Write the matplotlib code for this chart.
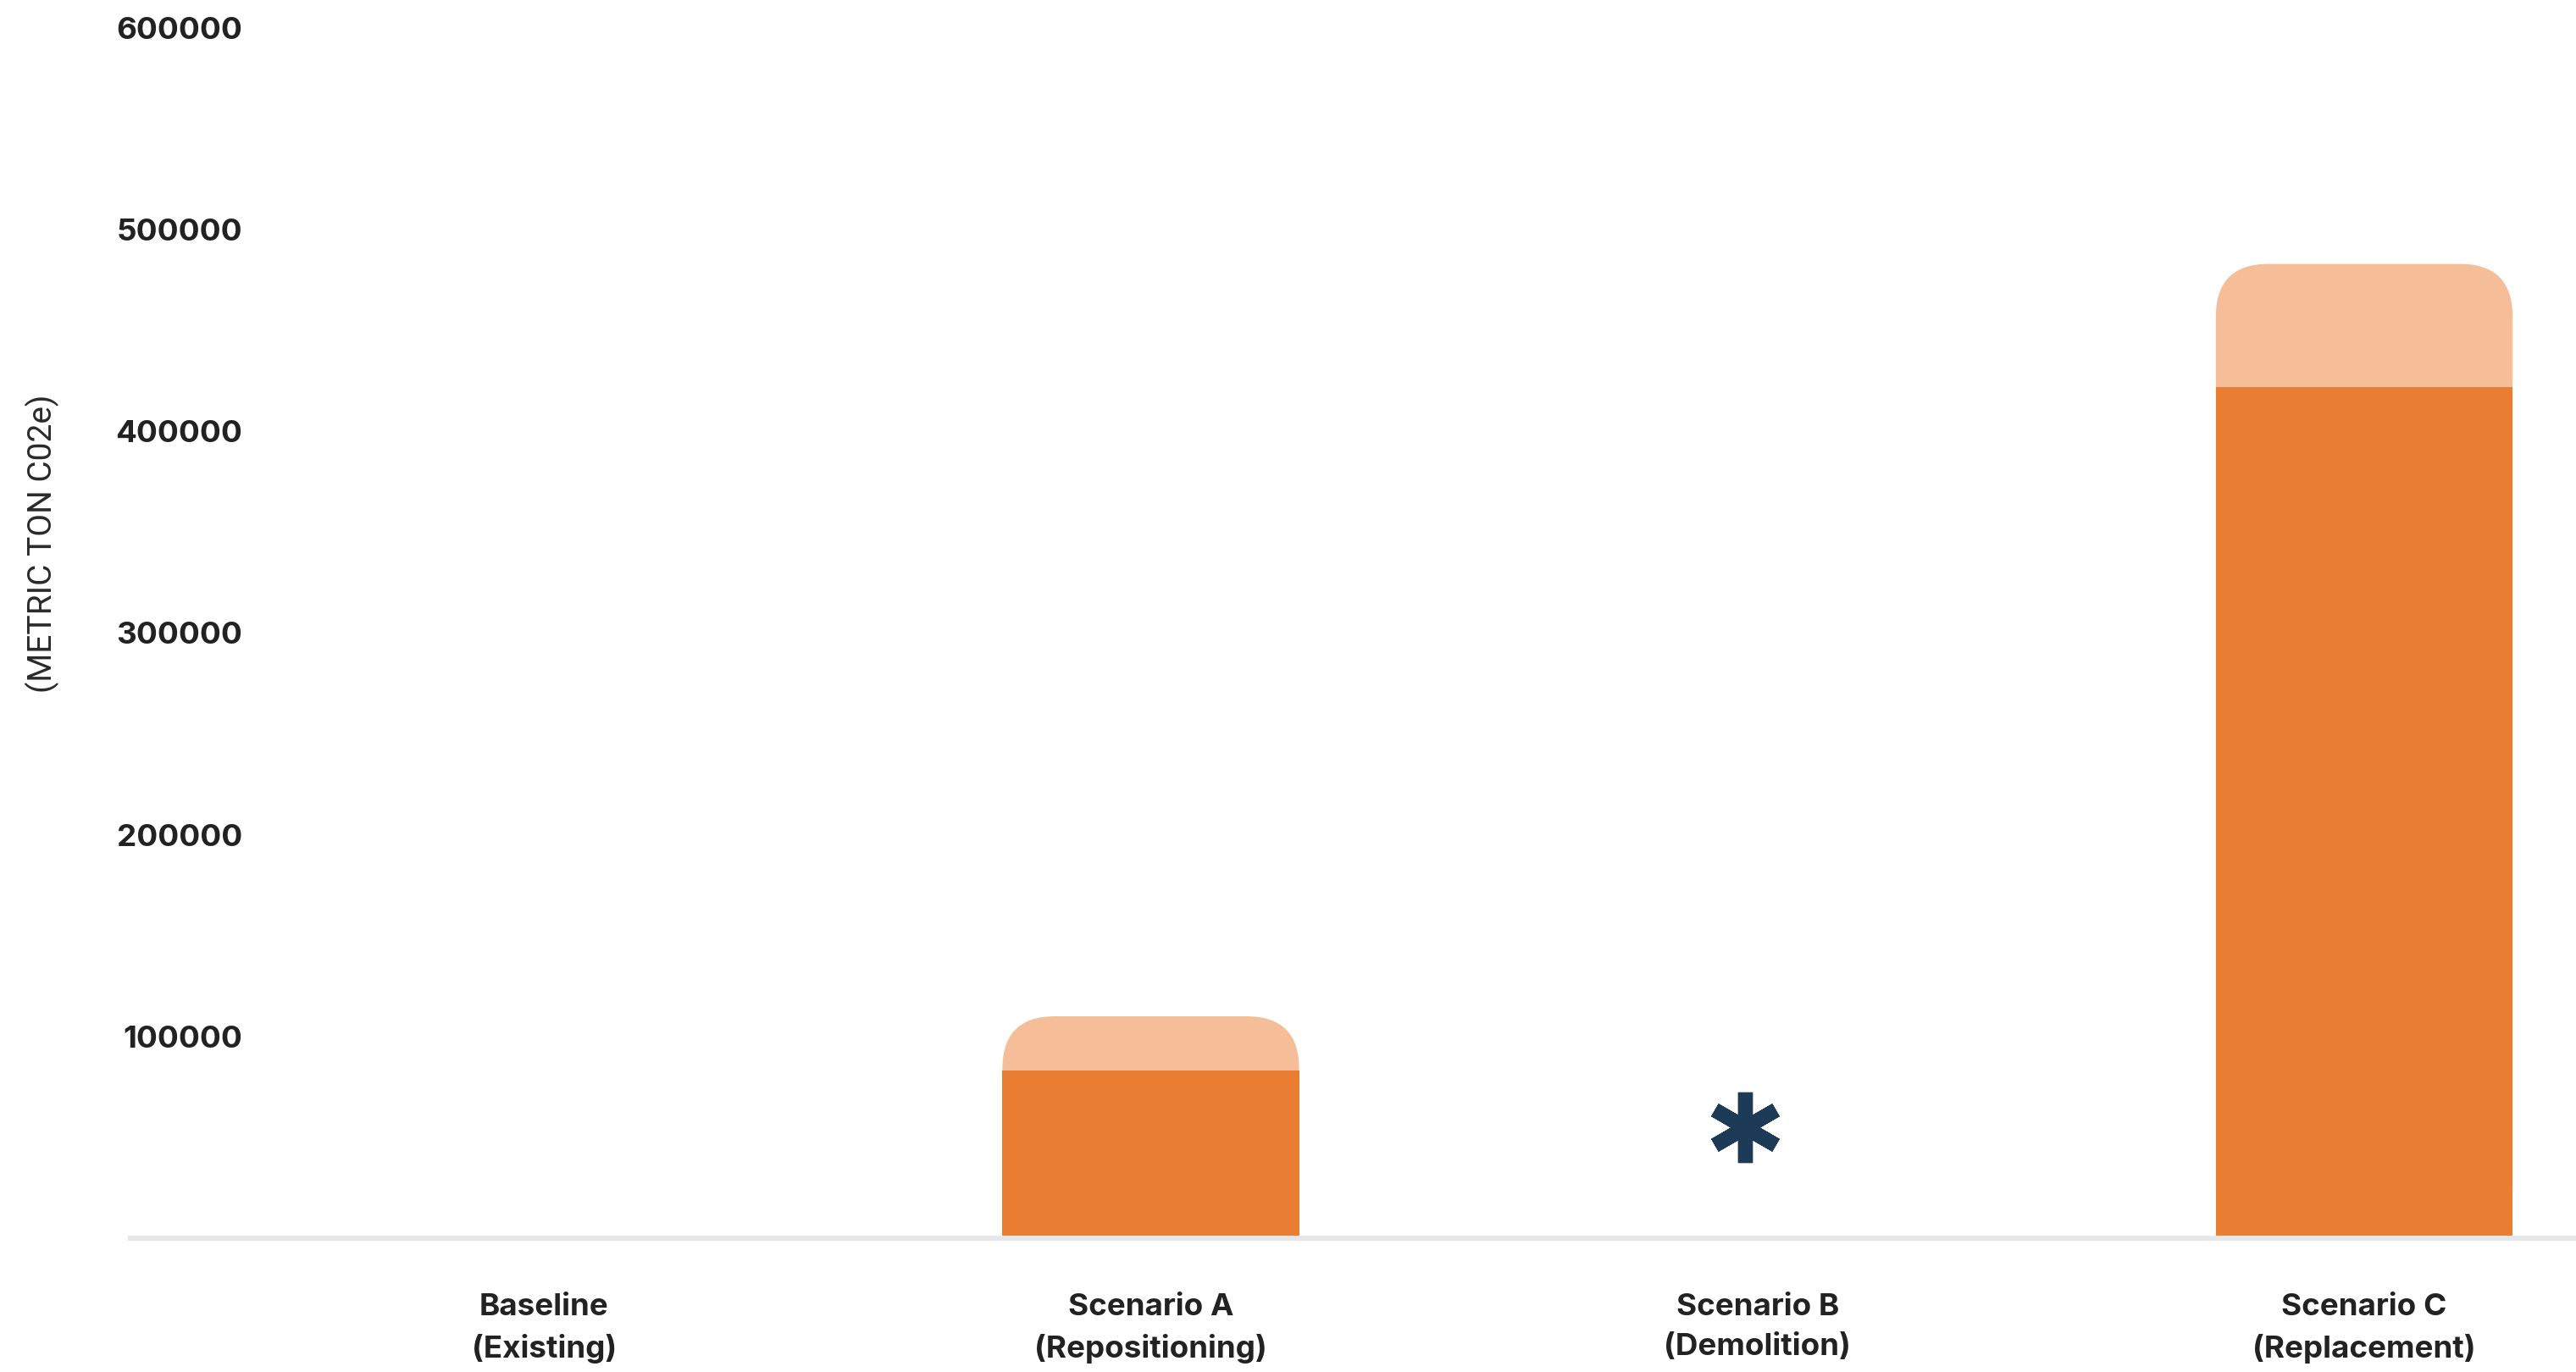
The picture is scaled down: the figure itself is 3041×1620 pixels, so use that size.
import matplotlib
matplotlib.use("Agg")
import matplotlib.pyplot as plt
from matplotlib.patches import FancyBboxPatch

categories = ["Baseline\n(Existing)", "Scenario A\n(Repositioning)",
              "Scenario B\n(Demolition)", "Scenario C\n(Replacement)"]
dark_values = [0, 83000, 0, 422000]
total_values = [0, 110000, 0, 483000]
asterisk_positions = [1.98]
asterisk_values = [55000]
yticks = [100000, 200000, 300000, 400000, 500000, 600000]

DPI = 100
W, H = 3041, 1620
fig = plt.figure(figsize=(W / DPI, H / DPI), dpi=DPI)
fig.patch.set_facecolor("white")

left_px, right_px, bottom_px, top_px = 154, 3041, 1462, 33
ax = fig.add_axes([left_px / W, 1 - bottom_px / H, (right_px - left_px) / W,
                   (bottom_px - top_px) / H])

xlim = (-0.6816, 3.349)
ylim = (0, 600000)
ax.set_xlim(*xlim)
ax.set_ylim(*ylim)

dark = "#E97D31"
light = "#F5BD98"
bw = 0.489

px_per_x = (right_px - left_px) / (xlim[1] - xlim[0])
px_per_y = (bottom_px - top_px) / (ylim[1] - ylim[0])
r_px = 62
rx = r_px / px_per_x
ry = r_px / px_per_y
aspect = ry / rx

for i, (d, t) in enumerate(zip(dark_values, total_values)):
    if t <= 0:
        continue
    patch = FancyBboxPatch((i - bw / 2, 0), bw, t,
                           boxstyle=f"round,pad=0,rounding_size={rx}",
                           mutation_aspect=aspect, facecolor=light,
                           edgecolor="none", linewidth=0, zorder=2)
    ax.add_patch(patch)

ax.bar(range(len(categories)), dark_values, width=bw, color=dark,
       linewidth=0, zorder=3)

ax.plot(asterisk_positions, asterisk_values, linestyle="none",
        marker=(6, 2, 0), markersize=60, markeredgewidth=12.5,
        color="#1D3A57", zorder=4)

for s in ["top", "right", "left"]:
    ax.spines[s].set_visible(False)
ax.spines["bottom"].set_color("#E6E7E9")
ax.spines["bottom"].set_linewidth(4.4)
ax.spines["bottom"].set_zorder(5)

ax.set_yticks(yticks)
ax.set_yticklabels([str(v) for v in yticks], fontfamily="Inter",
                   fontweight="bold", fontsize=26.5, color="#222222")
ax.tick_params(axis="y", length=0, pad=-(286 - left_px) * 72 / DPI)

ax.set_xticks(range(len(categories)))
ax.set_xticklabels(categories, fontfamily="Inter", fontweight="bold",
                   fontsize=26.5, color="#222222", linespacing=1.52)
ax.tick_params(axis="x", length=0, pad=47)

fig.text(50 / W, 1 - 642 / H, "(METRIC TON C02e)", rotation=90,
         ha="center", va="center", fontfamily="Roboto", fontsize=28,
         color="#2a2a2a", fontweight="normal")

fig.savefig("out.png", dpi=DPI, facecolor="white")
